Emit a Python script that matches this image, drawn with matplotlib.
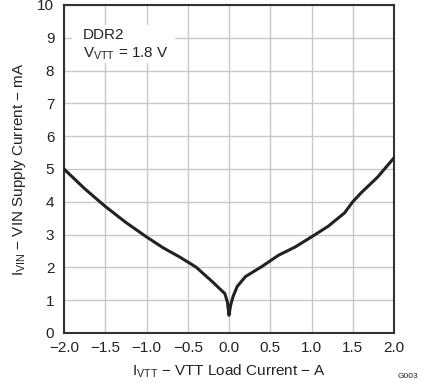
import numpy as np
import matplotlib
matplotlib.use("Agg")
import matplotlib.pyplot as plt
from matplotlib.patches import Rectangle

plt.rcParams['font.family'] = ['Liberation Sans', 'DejaVu Sans']
plt.rcParams['mathtext.fontset'] = 'custom'
plt.rcParams['mathtext.rm'] = 'Liberation Sans'
plt.rcParams['mathtext.it'] = 'Liberation Sans'

# load current (A) and supply current (mA)
load_current = [-2.0, -1.75, -1.5, -1.25, -1.0, -0.8, -0.6, -0.4, -0.2, -0.1,
                -0.05, -0.02, 0.0, 0.02, 0.05, 0.1, 0.2, 0.4, 0.6, 0.8,
                1.0, 1.2, 1.4, 1.5, 1.6, 1.8, 2.0]
supply_current = [5.0, 4.4, 3.86, 3.37, 2.93, 2.6, 2.32, 2.01, 1.56, 1.32,
                  1.2, 0.95, 0.54, 0.85, 1.12, 1.42, 1.72, 2.03, 2.37, 2.62,
                  2.93, 3.25, 3.66, 4.0, 4.27, 4.75, 5.34]

xticks = [-2.0, -1.5, -1.0, -0.5, 0.0, 0.5, 1.0, 1.5, 2.0]
yticks = list(range(0, 11))

fig = plt.figure(figsize=(4.21, 3.83), dpi=100)
ax = fig.add_axes([64 / 421, 50 / 383, 330 / 421, 328 / 383])

ax.plot(load_current, supply_current, color='#222222', lw=2.2, zorder=3)

ax.set_xlim(-2, 2)
ax.set_ylim(0, 10)
ax.set_xticks(xticks)
ax.set_xticklabels([f"{t:.1f}".replace('-', '\u2212') for t in xticks])
ax.set_yticks(yticks)
ax.tick_params(length=0, labelsize=11, colors='#222222')
ax.tick_params(axis='x', pad=6)
ax.tick_params(axis='y', pad=7)
ax.grid(True, color='#c8c8c8', lw=1.0)
ax.set_axisbelow(True)
for s in ax.spines.values():
    s.set_color('#333333')
    s.set_linewidth(1.5)

ax.set_xlabel(r"I$_{\mathrm{VTT}}$ $-$ VTT Load Current $-$ A", fontsize=11, color='#222222', labelpad=5)
ax.set_ylabel(r"I$_{\mathrm{VIN}}$ $-$ VIN Supply Current $-$ mA", fontsize=11, color='#222222', labelpad=7)

# white label box covering the grid
ax.add_patch(Rectangle((0.024, 0.823), 0.312, 0.116, transform=ax.transAxes,
                       facecolor='white', edgecolor='none', zorder=2))
ax.text(0.058, 0.93, "DDR2\n" + r"V$_{\mathrm{VTT}}$ = 1.8 V", transform=ax.transAxes,
        fontsize=11, color='#222222', va='top', ha='left', linespacing=1.3, zorder=4)

fig.text(408 / 421, 1 - 377 / 383, "G003", fontsize=6, color='#222222', ha='center', va='center')

fig.savefig("out.png", dpi=100)
